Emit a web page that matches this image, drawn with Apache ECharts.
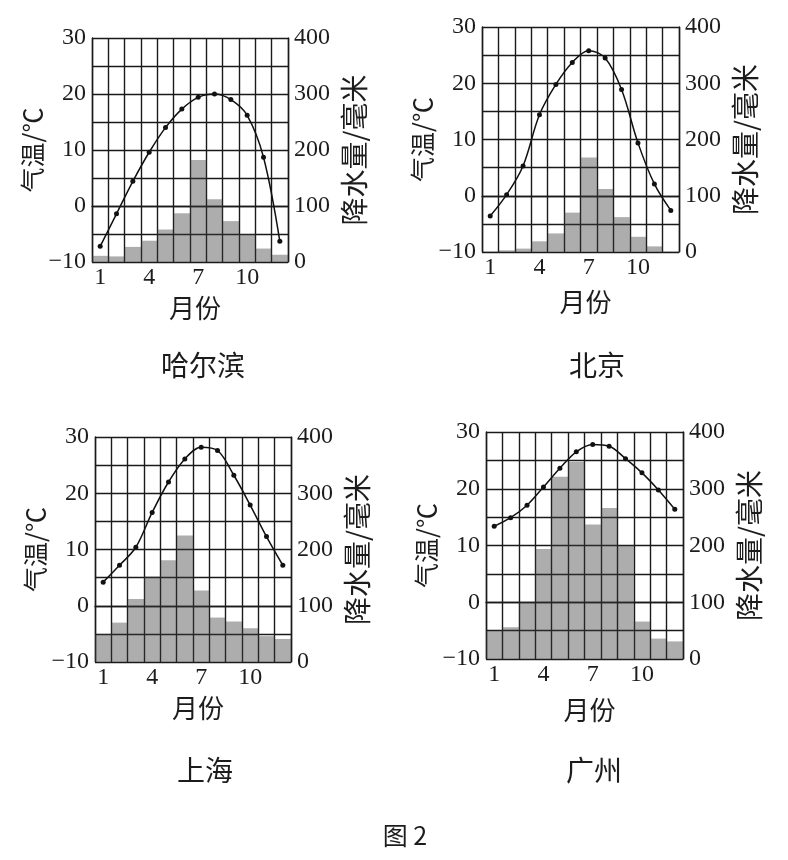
<!DOCTYPE html>
<html>
<head>
<meta charset="utf-8">
<script src="https://cdn.jsdelivr.net/npm/echarts@6/dist/echarts.min.js"></script>
<style>
html,body{margin:0;padding:0;background:#fff;}
#main{width:788px;height:860px;}
</style>
</head>
<body>
<div id="main"></div>
<script>
// ---- data ----
const months = ['1','2','3','4','5','6','7','8','9','10','11','12'];
const tempTicks = [-10, 0, 10, 20, 30];
const precipTicks = [0, 100, 200, 300, 400];
const cityNames = ['哈尔滨', '北京', '上海', '广州'];

const harbinTemp    = [-7.2, -1.4, 4.4, 9.6, 14.0, 17.3, 19.4, 20.0, 19.0, 16.2, 8.7, -6.3];
const harbinPrecip  = [11, 10, 27, 38, 58, 87, 182, 112, 73, 50, 24, 13];
const beijingTemp   = [-3.6, 0.2, 5.3, 14.4, 19.8, 23.7, 25.8, 24.5, 18.9, 9.4, 2.1, -2.6];
const beijingPrecip = [1, 3, 6, 19, 33, 70, 168, 112, 62, 27, 10, 1];
const shanghaiTemp  = [4.2, 7.2, 10.4, 16.6, 22.0, 26.1, 28.2, 27.6, 23.2, 17.9, 12.3, 7.2];
const shanghaiPrecip= [50, 70, 112, 152, 181, 225, 127, 79, 72, 60, 46, 41];
const guangzhouTemp = [13.4, 14.9, 17.1, 20.3, 23.6, 26.5, 27.8, 27.5, 25.3, 22.8, 19.8, 16.4];
const guangzhouPrecip=[50, 56, 100, 194, 321, 347, 237, 266, 200, 66, 36, 31];

const temps = [harbinTemp, beijingTemp, shanghaiTemp, guangzhouTemp];
const precips = [harbinPrecip, beijingPrecip, shanghaiPrecip, guangzhouPrecip];

// ---- layout ----
const grids = [
  {left: 92,  top: 38,  width: 196, height: 224},
  {left: 482, top: 27,  width: 197, height: 225},
  {left: 95,  top: 437, width: 196, height: 225},
  {left: 486, top: 432, width: 197, height: 227}
];
const xNameGap = [33, 37, 33, 38];
const cityPos = [[198, 362], [592, 362], [200, 767], [589, 767]];

const serif = "'Liberation Serif', 'Times New Roman', serif";
const cjk = "'Noto Sans CJK SC', sans-serif";
const ink = '#1c1c1c';
const gridLine = {color: '#1a1a1a', width: 1.4};

function fmtNum(v) { return v < 0 ? '\u2212' + Math.abs(v) : String(v); }

const xAxis = [], yAxis = [], series = [], title = [];
for (let i = 0; i < 4; i++) {
  xAxis.push({
    gridIndex: i, type: 'category', data: months, boundaryGap: true,
    axisLine: {show: true, lineStyle: gridLine},
    axisTick: {show: false},
    axisLabel: {interval: 2, margin: 4, fontSize: 24, fontFamily: serif, color: ink},
    splitLine: {show: true, interval: 0, lineStyle: gridLine},
    name: '月份', nameLocation: 'middle', nameGap: xNameGap[i],
    nameTextStyle: {fontSize: 26, fontFamily: cjk, color: ink, padding: [0, 0, 0, 10]}
  });
  yAxis.push({
    gridIndex: i, type: 'value', min: -10, max: 30, interval: 5, position: 'left',
    axisLine: {show: true, lineStyle: gridLine},
    axisTick: {show: false},
    splitLine: {show: true, lineStyle: gridLine},
    axisLabel: {margin: 6, fontSize: 24, fontFamily: serif, color: ink,
      formatter: v => tempTicks.indexOf(v) >= 0 ? fmtNum(v) : ''},
    name: '气温/℃', nameLocation: 'middle', nameRotate: 90, nameGap: 40,
    nameTextStyle: {fontSize: 25, fontFamily: cjk, color: ink}
  });
  yAxis.push({
    gridIndex: i, type: 'value', min: 0, max: 400, interval: 50, position: 'right',
    axisLine: {show: true, lineStyle: gridLine},
    axisTick: {show: false},
    splitLine: {show: false},
    axisLabel: {margin: 6, fontSize: 24, fontFamily: serif, color: ink,
      formatter: v => precipTicks.indexOf(v) >= 0 ? String(v) : ''},
    name: '降水量/毫米', nameLocation: 'middle', nameRotate: 90, nameGap: 52,
    nameTextStyle: {fontSize: 28, fontFamily: cjk, color: ink}
  });
  series.push({
    type: 'bar', name: cityNames[i] + '降水量', xAxisIndex: i, yAxisIndex: 2 * i + 1,
    data: precips[i], barCategoryGap: '0%',
    itemStyle: {color: 'rgba(60,60,60,0.42)'}, z: 2
  });
  series.push({
    type: 'line', name: cityNames[i] + '气温', xAxisIndex: i, yAxisIndex: 2 * i,
    data: temps[i], smooth: 0.35, symbol: 'circle', symbolSize: 5,
    lineStyle: {color: '#111', width: 1.5}, itemStyle: {color: '#111'}, z: 3
  });
  title.push({
    text: cityNames[i], left: cityPos[i][0], top: cityPos[i][1] - 16, textAlign: 'center',
    textStyle: {fontSize: 28, fontFamily: cjk, fontWeight: 'normal', color: ink}
  });
}
title.push({
  text: '图 2', left: 400, top: 818, textAlign: 'center',
  textStyle: {fontSize: 25, fontFamily: cjk, fontWeight: 'normal', color: ink}
});

const chart = echarts.init(document.getElementById('main'), null, {renderer: 'canvas'});
chart.setOption({
  backgroundColor: '#fff',
  animation: false,
  title: title,
  grid: grids,
  xAxis: xAxis,
  yAxis: yAxis,
  series: series
});
</script>
</body>
</html>
